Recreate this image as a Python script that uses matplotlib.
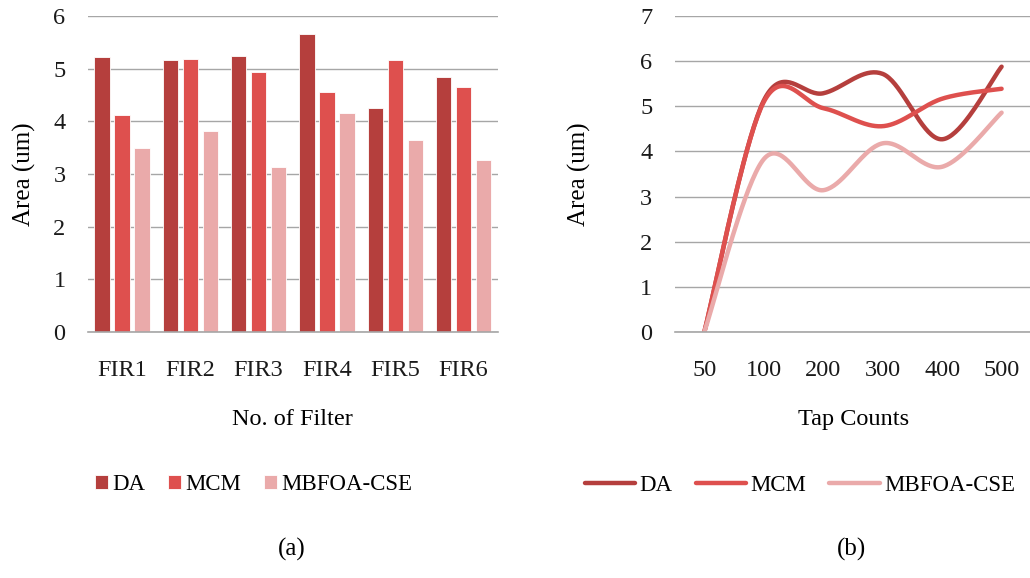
import numpy as np
import matplotlib
matplotlib.use("Agg")
import matplotlib.pyplot as plt

plt.rcParams['font.family'] = ['Liberation Serif', 'DejaVu Serif']

# (a) 柱状图数据
filters = ["FIR1", "FIR2", "FIR3", "FIR4", "FIR5", "FIR6"]
bar_da = [5.23, 5.17, 5.25, 5.67, 4.26, 4.85]
bar_mcm = [4.12, 5.18, 4.94, 4.55, 5.17, 4.65]
bar_mbfoa = [3.49, 3.82, 3.14, 4.16, 3.64, 3.26]

# (b) 折线图数据
taps = ["50", "100", "200", "300", "400", "500"]
line_da = [0, 5.13, 5.29, 5.72, 4.27, 5.88]
line_mcm = [0, 5.10, 4.96, 4.56, 5.17, 5.39]
line_mbfoa = [0, 3.83, 3.14, 4.18, 3.66, 4.86]

series = ["DA", "MCM", "MBFOA-CSE"]
colors = ["#B53F3D", "#DE504E", "#EAAAAA"]
GRID = "#A6A6A6"


def smooth(y, n=40):
    """Excel 风格的平滑曲线（Catmull-Rom 贝塞尔）。"""
    y = np.asarray(y, dtype=float)
    x = np.arange(len(y), dtype=float)
    xs, ys = [], []
    for i in range(len(y) - 1):
        p0 = (x[i - 1], y[i - 1]) if i > 0 else (x[i], y[i])
        p1 = (x[i], y[i])
        p2 = (x[i + 1], y[i + 1])
        p3 = (x[i + 2], y[i + 2]) if i + 2 < len(y) else (x[i + 1], y[i + 1])
        c1 = (p1[0] + (p2[0] - p0[0]) / 6, p1[1] + (p2[1] - p0[1]) / 6)
        c2 = (p2[0] - (p3[0] - p1[0]) / 6, p2[1] - (p3[1] - p1[1]) / 6)
        t = np.linspace(0, 1, n)
        bx = ((1 - t) ** 3 * p1[0] + 3 * (1 - t) ** 2 * t * c1[0]
              + 3 * (1 - t) * t ** 2 * c2[0] + t ** 3 * p2[0])
        by = ((1 - t) ** 3 * p1[1] + 3 * (1 - t) ** 2 * t * c1[1]
              + 3 * (1 - t) * t ** 2 * c2[1] + t ** 3 * p2[1])
        xs.extend(bx)
        ys.extend(by)
    return np.array(xs), np.array(ys)


def style_axes(ax, ymax):
    ax.set_ylim(0, ymax)
    ax.set_yticks(range(ymax + 1))
    ax.grid(axis="y", color=GRID, linewidth=1.0)
    ax.set_axisbelow(True)
    for side in ["top", "right", "left"]:
        ax.spines[side].set_visible(False)
    ax.spines["bottom"].set_color(GRID)
    ax.spines["bottom"].set_linewidth(1.2)
    ax.tick_params(axis="both", length=0, labelsize=17.5, colors="#1a1a1a")
    ax.tick_params(axis="y", pad=16)
    ax.tick_params(axis="x", pad=20)


fig = plt.figure(figsize=(10.30, 5.78), dpi=100)
H = 578.0

# ---- (a) ----
ax1 = fig.add_axes([0.0852, 0.426, 0.398, 0.546])
x = np.arange(len(filters))
offs = [-0.293, 0, 0.293]
for vals, off, c, name in zip([bar_da, bar_mcm, bar_mbfoa], offs, colors, series):
    ax1.bar(x + off, vals, width=0.225, color=c, edgecolor="white",
            linewidth=0.6, label=name)
ax1.set_xlim(-0.5, len(filters) - 0.5)
ax1.set_xticks(x)
ax1.set_xticklabels(filters)
style_axes(ax1, 6)
ax1.set_ylabel("Area (um)", fontsize=18)
ax1.yaxis.set_label_coords(-0.127, 0.5)
ax1.set_xlabel("No. of Filter", fontsize=17.5)
ax1.xaxis.set_label_coords(0.5, -0.245)
h1, l1 = ax1.get_legend_handles_labels()
fig.legend(h1, l1, loc="center", bbox_to_anchor=(254 / 1030, 1 - 485 / H),
           ncol=3, frameon=False, fontsize=16.5, handlelength=0.55,
           handleheight=0.55, handletextpad=0.2, columnspacing=1.0,
           borderpad=0)
fig.text(292 / 1030, 1 - 549 / H, "(a)", ha="center", va="center", fontsize=18)

# ---- (b) ----
ax2 = fig.add_axes([0.655, 0.426, 0.404, 0.546])
for vals, c, name in zip([line_da, line_mcm, line_mbfoa], colors, series):
    sx, sy = smooth(vals)
    ax2.plot(sx, sy, color=c, linewidth=3.2, solid_capstyle="round", label=name)
ax2.set_xlim(-0.5, 6.5)
ax2.set_xticks(range(len(taps)))
ax2.set_xticklabels(taps)
style_axes(ax2, 7)
ax2.set_ylabel("Area (um)", fontsize=18)
ax2.yaxis.set_label_coords(-0.2, 0.5)
ax2.set_xlabel("Tap Counts", fontsize=17.5)
ax2.xaxis.set_label_coords(0.43, -0.245)
h2, l2 = ax2.get_legend_handles_labels()
fig.legend(h2, l2, loc="center", bbox_to_anchor=(800 / 1030, 1 - 485 / H),
           ncol=3, frameon=False, fontsize=16.5, handlelength=2.2,
           handletextpad=0.2, columnspacing=1.0, borderpad=0)
fig.text(851 / 1030, 1 - 549 / H, "(b)", ha="center", va="center", fontsize=18)

fig.savefig("out.png", dpi=100)
